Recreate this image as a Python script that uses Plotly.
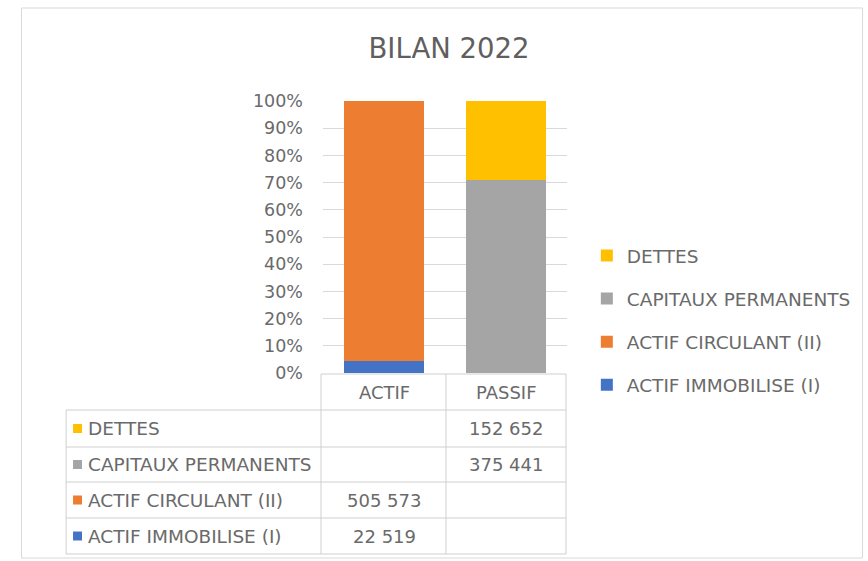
import plotly.graph_objects as go

# ---- data ----
categories = ["ACTIF", "PASSIF"]
series_names = ["ACTIF IMMOBILISE (I)", "ACTIF CIRCULANT (II)", "CAPITAUX PERMANENTS", "DETTES"]
actif_immobilise = [22519, None]
actif_circulant = [505573, None]
capitaux_permanents = [None, 375441]
dettes = [None, 152652]
series_values = [actif_immobilise, actif_circulant, capitaux_permanents, dettes]
series_colors = ["#4472C4", "#ED7D31", "#A5A5A5", "#FFC000"]
title_text = "BILAN 2022"

W, H = 868, 561
L, R, T, B = 323, 569, 101, 373  # plot area in pixels
FONT = "DejaVu Sans"
TXT = "#6a6a6a"
GRID = "#d9d9d9"
LBL = 18.5


def px(x):
    return (x - L) / (R - L)


def py(y):
    return (B - y) / (B - T)


fig = go.Figure()
n = len(series_names)
for i, (name, vals, col) in enumerate(zip(series_names, series_values, series_colors)):
    fig.add_trace(go.Bar(
        x=categories, y=vals, name=name, marker_color=col,
        marker_line_width=0, legendgroup=name, legendrank=n - i,
    ))

shapes = []
annotations = []

# outer chart border
shapes.append(dict(type="rect", xref="paper", yref="paper",
                   x0=px(19), x1=px(867), y0=py(8), y1=py(558),
                   line=dict(color="#d9d9d9", width=1)))

# table grid lines
tbl_left, col1, col2, tbl_right = 64, 321, 447, 568
hdr_top, hdr_bot = 374, 410
row_lines = [410, 447, 482, 518, 554]


def hline(y, x0, x1):
    shapes.append(dict(type="line", xref="paper", yref="paper",
                       x0=px(x0), x1=px(x1), y0=py(y), y1=py(y),
                       line=dict(color="#cfcfcf", width=1)))


def vline(x, y0, y1):
    shapes.append(dict(type="line", xref="paper", yref="paper",
                       x0=px(x), x1=px(x), y0=py(y0), y1=py(y1),
                       line=dict(color="#cfcfcf", width=1)))


hline(hdr_top, col1, tbl_right)
for y in row_lines:
    hline(y, tbl_left, tbl_right)
vline(tbl_left, hdr_bot, row_lines[-1])
for x in (col1, col2, tbl_right):
    vline(x, hdr_top, row_lines[-1])

# header cells (category names)
for c in categories:
    annotations.append(dict(x=c, xref="x", y=py((hdr_top + hdr_bot) / 2), yref="paper",
                            text=c, showarrow=False, xanchor="center", yanchor="middle",
                            font=dict(family=FONT, size=18, color=TXT)))

# rows: top to bottom = reversed series order
row_order = list(range(n))[::-1]
for r, si in enumerate(row_order):
    yc = (row_lines[r] + row_lines[r + 1]) / 2
    shapes.append(dict(type="rect", xref="paper", yref="paper",
                       x0=px(71), x1=px(80), y0=py(yc - 4.5), y1=py(yc + 4.5),
                       fillcolor=series_colors[si], line=dict(width=0)))
    annotations.append(dict(x=px(84), xref="paper", y=py(yc), yref="paper",
                            text=series_names[si], showarrow=False,
                            xanchor="left", yanchor="middle",
                            font=dict(family=FONT, size=LBL, color=TXT)))
    for ci, c in enumerate(categories):
        v = series_values[si][ci]
        if v is None:
            continue
        annotations.append(dict(x=c, xref="x", y=py(yc), yref="paper",
                                text=f"{v:,}".replace(",", " "), showarrow=False,
                                xanchor="center", yanchor="middle",
                                font=dict(family=FONT, size=18, color=TXT)))

fig.update_layout(
    width=W, height=H,
    margin=dict(l=L, r=W - R, t=T, b=H - B, pad=0),
    paper_bgcolor="white", plot_bgcolor="white",
    barmode="stack", barnorm="fraction", bargap=0.35,
    title=dict(text=title_text, x=449 / W, xref="container", xanchor="center",
               y=1 - 48 / H, yref="container", yanchor="middle",
               font=dict(family=FONT, size=27.5, color="#5f5f5f")),
    xaxis=dict(showticklabels=False, showgrid=False, zeroline=False, showline=False,
               ticks=""),
    yaxis=dict(range=[0, 1], dtick=0.1, tickformat=".0%", showgrid=True,
               gridcolor=GRID, gridwidth=1, zeroline=False, showline=False,
               ticks="", ticklabelstandoff=19,
               tickfont=dict(family=FONT, size=17.5, color=TXT)),
    legend=dict(x=px(589), xanchor="left", y=py(237), yanchor="top",
                traceorder="grouped", tracegroupgap=16,
                font=dict(family=FONT, size=LBL, color=TXT),
                bgcolor="rgba(0,0,0,0)"),
    shapes=shapes, annotations=annotations,
    showlegend=True,
)

fig.write_html("out.html", config={"displayModeBar": False},
               post_script="document.body.style.margin='0';document.body.style.padding='0';")
